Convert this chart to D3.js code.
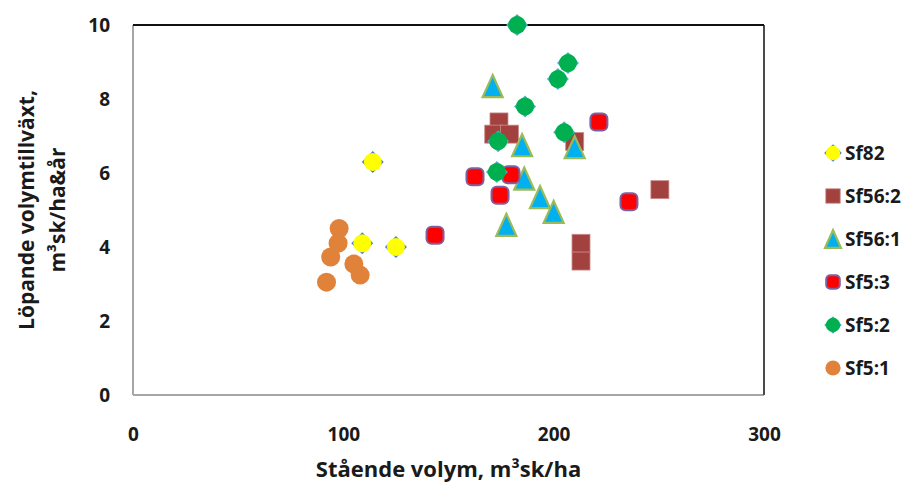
<!DOCTYPE html>
<html>
<head>
<meta charset="utf-8">
<script src="https://cdn.jsdelivr.net/npm/d3@7"></script>
<style>
  body { margin: 0; background: #fff; }
  text { font-family: "Open Sans", sans-serif; font-weight: bold; fill: #1a1a1a; }
</style>
</head>
<body>
<script>
// values: [stående volym, löpande tillväxt]
var sf82   = [[114, 6.3], [109, 4.1], [125, 4.0]];
var sf56_2 = [[174, 7.38], [171.5, 7.05], [179, 7.05], [210, 6.85], [250.5, 5.55], [213, 4.1], [213, 3.62]];
var sf56_1 = [[171, 8.35], [185, 6.75], [210, 6.7], [186, 5.85], [193.5, 5.35], [200, 4.95], [177.5, 4.6]];
var sf5_3  = [[221.5, 7.38], [235.8, 5.22], [162.6, 5.9], [179.7, 5.95], [174.5, 5.4], [143.6, 4.32]];
var sf5_2  = [[182.6, 10.0], [206.8, 8.97], [202, 8.54], [186.4, 7.8], [205, 7.1], [173.6, 6.86], [173, 6.03]];
var sf5_1  = [[98, 4.5], [97.5, 4.1], [94, 3.73], [105, 3.54], [108, 3.24], [92, 3.05]];

var seriesNames = ["Sf82", "Sf56:2", "Sf56:1", "Sf5:3", "Sf5:2", "Sf5:1"];
var seriesData = [sf82, sf56_2, sf56_1, sf5_3, sf5_2, sf5_1];
var xTicks = [0, 100, 200, 300];
var yTicks = [0, 2, 4, 6, 8, 10];

var svg = d3.select("body").append("svg").attr("width", 907).attr("height", 488),
    margin = {top: 25, right: 143, bottom: 93, left: 133},
    width = 907 - margin.left - margin.right,
    height = 488 - margin.top - margin.bottom,
    g = svg.append("g").attr("transform", "translate(" + margin.left + "," + margin.top + ")");

var x = d3.scaleLinear().domain([0, 300]).range([0, width]);
var y = d3.scaleLinear().domain([0, 10]).range([height, 0]);

// marker painters, one per series (Excel-like look)
function marker(sel, i, s) {
  s = s || 1;
  if (i === 0 || i === 4) {   // diamond behind a circle
    var r = 11 * s;
    sel.append("path")
      .attr("d", "M0," + (-r) + "L" + r + ",0L0," + r + "L" + (-r) + ",0Z")
      .attr("fill", i === 0 ? "#4f81bd" : "#4bacc6");
    sel.append("circle").attr("r", 9 * s)
      .attr("fill", i === 0 ? "#ffff00" : "#00b050");
  } else if (i === 1) {
    sel.append("rect").attr("x", -9 * s).attr("y", -9 * s).attr("width", 18 * s).attr("height", 18 * s)
      .attr("fill", "#a3413e").attr("stroke", "#c98d8b").attr("stroke-width", 0.8);
  } else if (i === 2) {
    var w = 10 * s, h = 11 * s;
    sel.append("path").attr("d", "M0," + (-h) + "L" + w + "," + h + "L" + (-w) + "," + h + "Z")
      .attr("fill", "#00b0f0").attr("stroke", "#9bbb59").attr("stroke-width", 2.2).attr("stroke-linejoin", "miter");
  } else if (i === 3) {
    sel.append("rect").attr("x", -8.5 * s).attr("y", -8.5 * s).attr("width", 17 * s).attr("height", 17 * s)
      .attr("rx", 5 * s).attr("fill", "#ff0000").attr("stroke", "#7b62a3").attr("stroke-width", 2);
  } else {
    sel.append("circle").attr("r", 9.5 * s).attr("fill", "#e0823a");
  }
}

// frame
g.append("line").attr("x1", 0).attr("x2", 0).attr("y1", 0).attr("y2", height)
  .attr("stroke", "#a6a6a6").attr("stroke-width", 2);
g.append("line").attr("x1", 0).attr("x2", width).attr("y1", height).attr("y2", height)
  .attr("stroke", "#a6a6a6").attr("stroke-width", 2);
g.append("line").attr("x1", width).attr("x2", width).attr("y1", 0).attr("y2", height)
  .attr("stroke", "#4a4a4a").attr("stroke-width", 2);
g.append("line").attr("x1", 0).attr("x2", width).attr("y1", y(10)).attr("y2", y(10))
  .attr("stroke", "#111").attr("stroke-width", 2);

// axes (labels only)
var xAxis = g.append("g").attr("transform", "translate(0," + height + ")")
  .call(d3.axisBottom(x).tickValues(xTicks).tickSize(0).tickPadding(33));
var yAxis = g.append("g")
  .call(d3.axisLeft(y).tickValues(yTicks).tickSize(0).tickPadding(23));
[xAxis, yAxis].forEach(function(a) {
  a.select(".domain").remove();
  a.selectAll("text").attr("font-size", 19).attr("font-family", "Open Sans").attr("font-weight", "bold").attr("fill", "#1a1a1a");
});

// points
seriesData.forEach(function(data, i) {
  g.append("g").selectAll("g")
    .data(data)
    .enter().append("g")
      .attr("transform", function(d) { return "translate(" + x(d[0]) + "," + y(d[1]) + ")"; })
      .each(function() { marker(d3.select(this), i); });
});

// axis titles
svg.append("text")
  .attr("x", margin.left + width / 2).attr("y", 477)
  .attr("text-anchor", "middle").attr("font-size", 22)
  .text("Stående volym, m³sk/ha");

var yt = svg.append("text")
  .attr("transform", "translate(34," + (margin.top + height / 2) + ") rotate(-90)")
  .attr("text-anchor", "middle").attr("font-size", 21);
yt.append("tspan").attr("x", 0).attr("y", 0).text("Löpande volymtillväxt,");
yt.append("tspan").attr("x", 0).attr("y", 31).text("m³sk/ha&år");

// legend
var legend = svg.append("g")
  .selectAll("g")
  .data(seriesNames)
  .enter().append("g")
    .attr("transform", function(d, i) { return "translate(833," + (153 + i * 43) + ")"; });

legend.each(function(d, i) { marker(d3.select(this), i, 0.8); });

legend.append("text")
  .attr("x", 12)
  .attr("dy", "0.35em")
  .attr("font-size", 19)
  .text(function(d) { return d; });
</script>
</body>
</html>
